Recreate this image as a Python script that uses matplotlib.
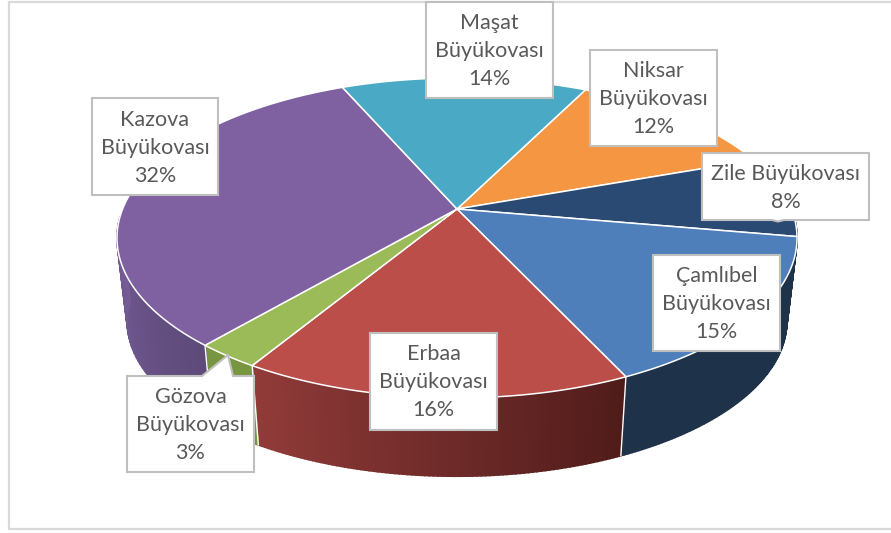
import numpy as np
import matplotlib
matplotlib.use("Agg")
import matplotlib.pyplot as plt
from matplotlib.colors import to_rgb

# slices, clockwise from the Maşat/Niksar border
categories = ["Niksar Büyükovası", "Zile Büyükovası", "Çamlıbel Büyükovası", "Erbaa Büyükovası",
              "Gözova Büyükovası", "Kazova Büyükovası", "Maşat Büyükovası"]
values = [12.2, 8.2, 15.3, 15.6, 2.6, 32.2, 13.9]

top_colors = ["#F59643", "#2A4A73", "#4F7FBB", "#BC4E4A", "#9BBB59", "#7F60A0", "#4AA9C4"]
wall_start = ["#B5692C", "#1E324A", "#1E324A", "#4F1C1A", "#78963F", "#5E4A7A", "#2F7F96"]
wall_end = ["#B5692C", "#1E324A", "#1E324A", "#913B39", "#78963F", "#755C96", "#2F7F96"]

# label boxes: left, right, top, bottom in pixels
boxes = [(590, 717, 50, 146), (702, 869, 153, 220), (653, 780, 255, 351), (370, 497, 333, 430),
         (127, 254, 376, 472), (92, 218, 98, 195), (426, 553, 2, 98)]
one_line = ["Zile Büyükovası"]

start_angle = 63.5
cx, cy = 457, 209
rx, ry = 334.4, 154.7
persp = 0.181
wall_scale, wall_cy = 0.97, 293


def project(theta, scale=1.0, y0=cy):
    t = np.radians(theta)
    d = 1 + persp * np.sin(t)
    return cx + scale * rx * np.cos(t) / d, y0 - scale * ry * np.sin(t) / d


fig = plt.figure(figsize=(8.91, 5.33), dpi=100)
ax = fig.add_axes([0, 0, 1, 1])
ax.set_xlim(0, 891)
ax.set_ylim(533, 0)
ax.axis("off")

# chart frame
ax.plot([893, 9, 9, 893], [1.5, 1.5, 529, 529], color="#D9D9D9", lw=1.6, zorder=1)

bounds = start_angle - np.cumsum([0] + values) / sum(values) * 360

# side walls first
for i in range(len(values)):
    th = np.linspace(bounds[i], bounds[i + 1], 90)
    inside = np.sin(np.radians(th)) < -0.03
    th = th[inside]
    if len(th) < 2:
        continue
    c0, c1 = np.array(to_rgb(wall_start[i])), np.array(to_rgb(wall_end[i]))
    x1, y1 = project(th)
    x2, y2 = project(th, wall_scale, wall_cy)
    for j in range(len(th) - 1):
        col = c0 + (c1 - c0) * j / max(len(th) - 2, 1)
        ax.fill([x1[j], x1[j + 1], x2[j + 1], x2[j]], [y1[j], y1[j + 1], y2[j + 1], y2[j]],
                color=col, lw=1.2, zorder=2)
    # white seams only on the visible front borders
    if inside[-1] and -150 < bounds[i + 1] < -12:
        ax.plot([x1[-1], x2[-1]], [y1[-1], y2[-1]], color="white", lw=1, zorder=3)

# top face
for i in range(len(values)):
    th = np.linspace(bounds[i], bounds[i + 1], 120)
    x, y = project(th)
    ax.fill(np.r_[cx, x], np.r_[cy, y], facecolor=top_colors[i], edgecolor="white", lw=1.1,
            joinstyle="round", zorder=4)

# labels
for i, name in enumerate(categories):
    l, r, t, b = boxes[i]
    if name.startswith("Gözova"):  # callout points up into the slice
        xs = [l, 202, 228, 233, r, r, l]
        ys = [t, t, 355, t, t, b, b]
    elif name.startswith("Zile"):  # tiny stub under the box
        xs = [l, r, r, 784, 778, 772, l]
        ys = [t, t, b, b, b + 1.5, b, b]
    else:
        xs = [l, r, r, l]
        ys = [t, t, b, b]
    ax.fill(xs, ys, facecolor="white", edgecolor="#BFBFBF", lw=1.5, joinstyle="miter", zorder=5)
    label = name if name in one_line else name.replace(" ", "\n")
    ax.text((l + r) / 2, (t + b) / 2 + 1, f"{label}\n{round(values[i])}%", ha="center", va="center",
            fontsize=15.5, family="Lato", color="#595959", linespacing=1.5, zorder=6)

fig.savefig("out.png", dpi=100, facecolor="white")
